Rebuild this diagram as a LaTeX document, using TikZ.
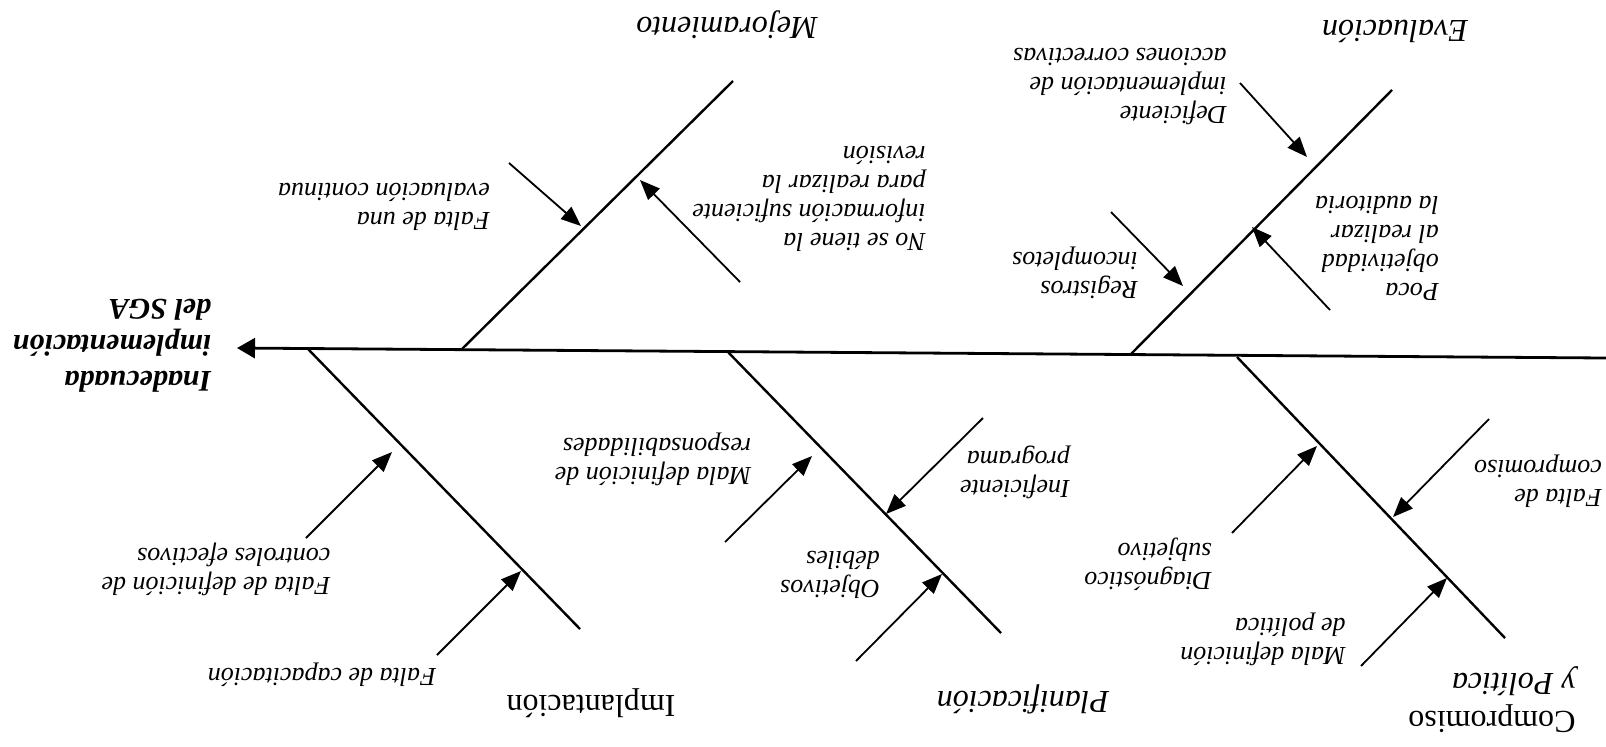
\documentclass[tikz,border=0pt]{standalone}
\usepackage{fontspec}
\setmainfont{Liberation Serif}
\usetikzlibrary{arrows.meta}
\tikzset{
  bone/.style={line width=1.2pt},
  causearrow/.style={line width=0.9pt, -{Triangle[length=10pt,width=8pt]}},
  lbl/.style={font=\itshape\fontsize{13}{14.5}\selectfont, align=left, rotate=180, inner sep=0pt},
  cat/.style={font=\itshape\fontsize{16}{19}\selectfont, align=left, rotate=180, inner sep=0pt}
}
\begin{document}
\begin{tikzpicture}[x=0.5pt, y=-0.5pt]
  \useasboundingbox (0,0) rectangle (1606,746);
  % spine and effect
  \coordinate (tail) at (1606,358);
  \coordinate (head) at (237,348);
  \draw[line width=1.4pt, -{Triangle[length=9pt,width=10pt]}] (tail) -- (head);
  \node[font=\bfseries\itshape\fontsize{15}{18}\selectfont, align=left, rotate=180, inner sep=0pt] (efecto) at (112,346) {Inadecuada\\implementación\\del SGA};
  % main bones
  \foreach \n/\a/\b in {mej/{462,349}/{733,81}, eva/{1130,355}/{1392,90}, imp/{308,349}/{580,629},
                        pla/{727,351}/{1001,633}, com/{1237,357}/{1505,638}} {
    \coordinate (\n-s) at (\a);
    \coordinate (\n-e) at (\b);
    \draw[bone] (\n-s) -- (\n-e);
  }
  \node[cat] (mejora) at (727,25) {Mejoramiento};
  \node[cat] (evalua) at (1395,31) {Evaluación};
  \node[cat, font=\upshape\fontsize{16}{19}\selectfont] (implanta) at (591,703) {Implantación};
  \node[cat] (planif) at (1023,699) {Planificación};
  \node[cat] (compro) at (1492,700) {{\upshape Compromiso}\\y Política};
  % causes: tail / tip on the bone
  \foreach \i/\t/\h in {1/{509,163}/{581,226}, 2/{740,282}/{640,180}, 3/{1111,212}/{1183,286},
                        4/{1240,83}/{1307,157}, 5/{1330,310}/{1252,227}, 6/{306,538}/{392,452},
                        7/{437,655}/{521,571}, 8/{725,542}/{812,456}, 9/{983,418}/{886,514},
                        10/{856,661}/{942,574}, 11/{1232,533}/{1317,446}, 12/{1361,666}/{1447,578},
                        13/{1489,419}/{1393,517}} {
    \coordinate (t\i) at (\t);
    \coordinate (h\i) at (\h);
    \draw[causearrow] (t\i) -- (h\i);
  }
  \foreach \n/\p/\s in {c1/{384,207}/{Falta de una\\evaluación continua},
                        c2/{809,199}/{No se tiene la\\información suficiente\\para realizar la\\revisión},
                        c3/{1075,273}/{Registros\\incompletos},
                        c4/{1120,87}/{Deficiente\\implementación de\\acciones correctivas},
                        c5/{1377,248}/{Poca\\objetividad\\al realizar\\la auditoria},
                        c6/{216,569}/{Falta de definición de\\controles efectivos},
                        c7/{322,675}/{Falta de capacitación},
                        c8/{653,459}/{Mala definición de\\responsabilidades},
                        c9/{1015,472}/{Ineficiente\\programa},
                        c10/{830,575}/{Objetivos\\débiles},
                        c11/{1148,564}/{Diagnóstico\\subjetivo},
                        c12/{1263,639}/{Mala definición\\de política},
                        c13/{1538,481}/{Falta de\\compromiso}} {
    \node[lbl] (\n) at (\p) {\s};
  }
\end{tikzpicture}
\end{document}
